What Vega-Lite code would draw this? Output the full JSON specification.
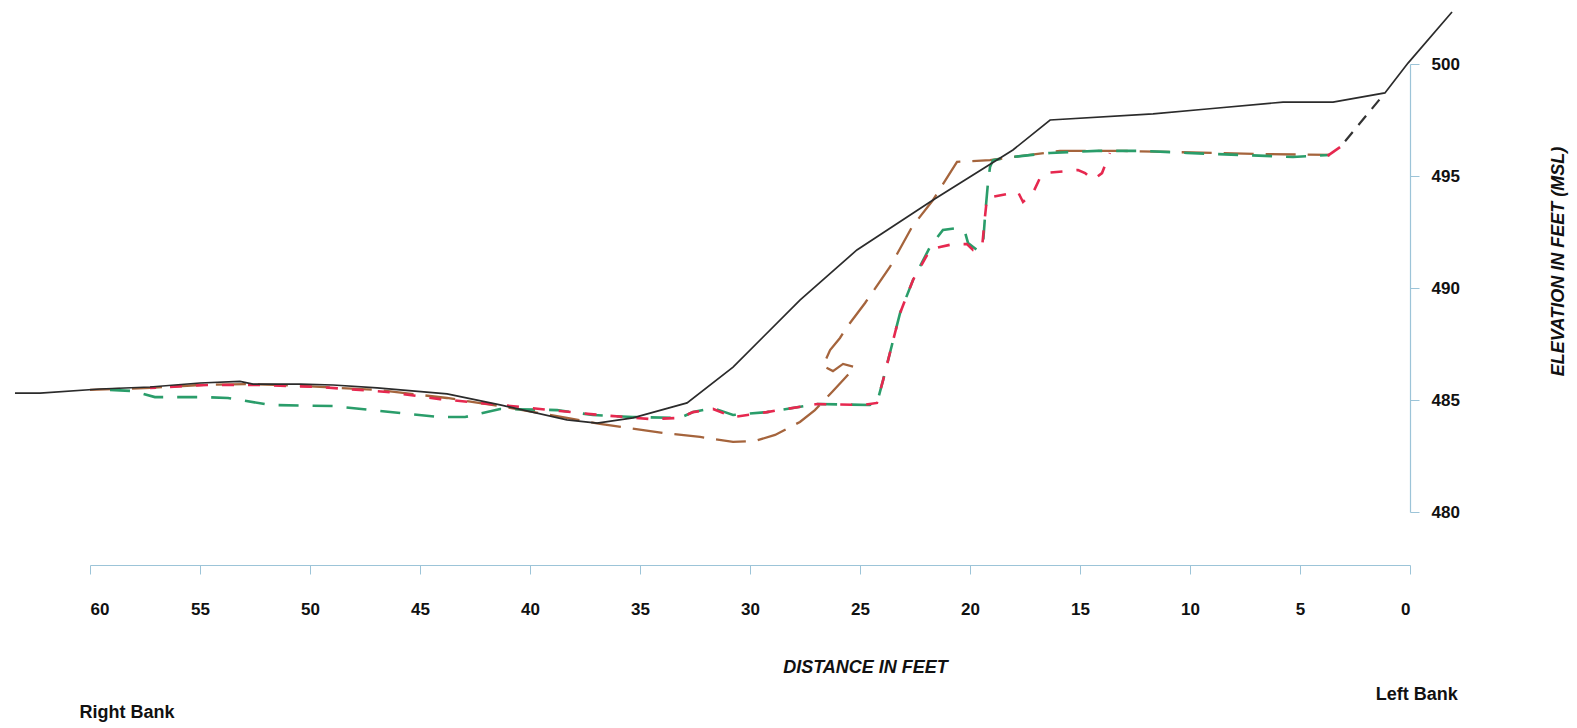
{
  "$schema": "https://vega.github.io/schema/vega-lite/v6.json",
  "width": 1320,
  "height": 448,
  "autosize": {"type": "none"},
  "padding": {"left": 90, "top": 64, "right": 167, "bottom": 216},
  "background": "white",
  "config": {"view": {"stroke": null}, "font": "Liberation Sans"},
  "datasets": {
    "black": [
      {"i":1,"d":63.41,"e":485.31},{"i":2,"d":62.27,"e":485.31},{"i":3,"d":59.55,"e":485.49},{"i":4,"d":57.27,"e":485.58},
      {"i":5,"d":55.0,"e":485.76},{"i":6,"d":53.18,"e":485.83},{"i":7,"d":52.59,"e":485.71},{"i":8,"d":50.45,"e":485.71},
      {"i":9,"d":48.95,"e":485.67},{"i":10,"d":46.95,"e":485.54},{"i":11,"d":43.77,"e":485.27},{"i":12,"d":41.36,"e":484.78},
      {"i":13,"d":38.32,"e":484.11},{"i":14,"d":36.95,"e":483.97},{"i":15,"d":35.32,"e":484.2},{"i":16,"d":32.86,"e":484.87},
      {"i":17,"d":30.77,"e":486.47},{"i":18,"d":27.73,"e":489.46},{"i":19,"d":25.14,"e":491.7},{"i":20,"d":21.68,"e":493.93},
      {"i":21,"d":18.05,"e":496.16},{"i":22,"d":16.36,"e":497.5},{"i":23,"d":11.68,"e":497.77},{"i":24,"d":9.23,"e":497.99},
      {"i":25,"d":5.77,"e":498.3},{"i":26,"d":3.5,"e":498.3},{"i":27,"d":1.14,"e":498.71},{"i":28,"d":0.09,"e":500.04},
      {"i":29,"d":-1.91,"e":502.32}
    ],
    "brown": [
      {"i":1,"d":60.0,"e":485.45},{"i":2,"d":57.27,"e":485.54},{"i":3,"d":55.0,"e":485.67},{"i":4,"d":52.86,"e":485.71},
      {"i":5,"d":50.45,"e":485.63},{"i":6,"d":46.95,"e":485.45},{"i":7,"d":43.77,"e":485.09},{"i":8,"d":41.36,"e":484.73},
      {"i":9,"d":38.32,"e":484.2},{"i":10,"d":36.82,"e":483.93},{"i":11,"d":33.95,"e":483.53},{"i":12,"d":32.27,"e":483.35},
      {"i":13,"d":30.77,"e":483.13},{"i":14,"d":29.77,"e":483.17},{"i":15,"d":28.86,"e":483.44},{"i":16,"d":27.73,"e":484.02},
      {"i":17,"d":27.05,"e":484.55},{"i":18,"d":26.27,"e":485.36},{"i":19,"d":25.68,"e":485.98},{"i":20,"d":25.23,"e":486.47},
      {"i":21,"d":25.77,"e":486.61},{"i":22,"d":26.23,"e":486.29},{"i":23,"d":26.68,"e":486.52},{"i":24,"d":26.36,"e":487.23},
      {"i":25,"d":25.91,"e":487.77},{"i":26,"d":25.59,"e":488.26},{"i":27,"d":24.77,"e":489.33},{"i":28,"d":23.64,"e":490.94},
      {"i":29,"d":22.64,"e":492.72},{"i":30,"d":21.68,"e":493.93},{"i":31,"d":20.59,"e":495.63},{"i":32,"d":19.09,"e":495.71},
      {"i":33,"d":15.91,"e":496.12},{"i":34,"d":13.05,"e":496.12},{"i":35,"d":8.95,"e":496.03},{"i":36,"d":6.82,"e":495.98},
      {"i":37,"d":3.64,"e":495.94}
    ],
    "green": [
      {"i":1,"d":59.09,"e":485.45},{"i":2,"d":58.05,"e":485.4},{"i":3,"d":57.05,"e":485.13},{"i":4,"d":54.86,"e":485.13},
      {"i":5,"d":53.73,"e":485.09},{"i":6,"d":51.82,"e":484.78},{"i":7,"d":48.95,"e":484.73},{"i":8,"d":46.82,"e":484.51},
      {"i":9,"d":44.09,"e":484.24},{"i":10,"d":42.95,"e":484.24},{"i":11,"d":41.36,"e":484.6},{"i":12,"d":38.77,"e":484.55},
      {"i":13,"d":37.14,"e":484.33},{"i":14,"d":35.32,"e":484.24},{"i":15,"d":33.18,"e":484.2},{"i":16,"d":32.59,"e":484.46},
      {"i":17,"d":31.68,"e":484.64},{"i":18,"d":30.77,"e":484.33},{"i":19,"d":29.23,"e":484.46},{"i":20,"d":26.95,"e":484.82},
      {"i":21,"d":24.55,"e":484.78},{"i":22,"d":24.23,"e":484.87},{"i":23,"d":23.95,"e":485.89},{"i":24,"d":23.64,"e":487.1},
      {"i":25,"d":23.18,"e":488.88},{"i":26,"d":22.59,"e":490.36},{"i":27,"d":21.82,"e":491.83},{"i":28,"d":21.23,"e":492.59},
      {"i":29,"d":20.59,"e":492.68},{"i":30,"d":20.23,"e":492.5},{"i":31,"d":20.09,"e":492.01},{"i":32,"d":19.68,"e":491.7},
      {"i":33,"d":19.41,"e":491.92},{"i":34,"d":19.32,"e":493.17},{"i":35,"d":19.18,"e":494.73},{"i":36,"d":19.09,"e":495.4},
      {"i":37,"d":18.95,"e":495.71},{"i":38,"d":18.05,"e":495.85},{"i":39,"d":16.36,"e":496.03},{"i":40,"d":14.23,"e":496.12},
      {"i":41,"d":12.14,"e":496.12},{"i":42,"d":10.14,"e":496.03},{"i":43,"d":7.73,"e":495.94},{"i":44,"d":5.32,"e":495.85},
      {"i":45,"d":3.64,"e":495.94}
    ],
    "red": [
      {"i":1,"d":57.27,"e":485.54},{"i":2,"d":54.68,"e":485.67},{"i":3,"d":52.27,"e":485.67},{"i":4,"d":49.55,"e":485.58},
      {"i":5,"d":46.5,"e":485.36},{"i":6,"d":44.09,"e":485.04},{"i":7,"d":41.36,"e":484.78},{"i":8,"d":40.45,"e":484.69},
      {"i":9,"d":38.64,"e":484.51},{"i":10,"d":36.82,"e":484.33},{"i":11,"d":34.55,"e":484.15},{"i":12,"d":33.18,"e":484.2},
      {"i":13,"d":32.59,"e":484.46},{"i":14,"d":31.68,"e":484.6},{"i":15,"d":30.77,"e":484.24},{"i":16,"d":29.23,"e":484.46},
      {"i":17,"d":26.95,"e":484.82},{"i":18,"d":24.86,"e":484.78},{"i":19,"d":24.23,"e":484.87},{"i":20,"d":23.95,"e":485.89},
      {"i":21,"d":23.64,"e":487.1},{"i":22,"d":23.18,"e":488.88},{"i":23,"d":22.59,"e":490.36},{"i":24,"d":21.82,"e":491.7},
      {"i":25,"d":21.36,"e":491.83},{"i":26,"d":20.77,"e":491.96},{"i":27,"d":20.14,"e":491.96},{"i":28,"d":19.86,"e":491.7},
      {"i":29,"d":19.45,"e":491.83},{"i":30,"d":19.32,"e":493.17},{"i":31,"d":19.23,"e":494.02},{"i":32,"d":18.09,"e":494.24},
      {"i":33,"d":17.82,"e":494.29},{"i":34,"d":17.59,"e":493.84},{"i":35,"d":17.14,"e":494.24},{"i":36,"d":16.82,"e":494.91},
      {"i":37,"d":16.59,"e":495.13},{"i":38,"d":15.09,"e":495.27},{"i":39,"d":14.77,"e":495.13},{"i":40,"d":14.41,"e":494.82},
      {"i":41,"d":14.0,"e":495.13},{"i":42,"d":13.82,"e":495.58},{"i":43,"d":13.64,"e":496.03}
    ],
    "redtick": [
      {"i":1,"d":3.75,"e":495.9},{"i":2,"d":3.18,"e":496.29}
    ],
    "connector": [
      {"i":1,"d":2.95,"e":496.55},{"i":2,"d":1.14,"e":498.71}
    ],
    "banks": [
      {"label":"Right Bank","d":58.32,"e":471.03},
      {"label":"Left Bank","d":-0.31,"e":471.83}
    ]
  },
  "encoding": {
    "x": {
      "field": "d", "type": "quantitative",
      "scale": {"domain": [0, 60], "reverse": true, "nice": false, "zero": false},
      "axis": {
        "values": [0,5,10,15,20,25,30,35,40,45,50,55,60],
        "offset": 53, "grid": false,
        "domainColor": "#9cc4d8", "tickColor": "#9cc4d8", "tickSize": 9, "domainWidth": 1.2,
        "labelFont": "Liberation Sans", "labelFontWeight": "bold", "labelFontSize": 17, "labelColor": "#111",
        "labelPadding": 27,
        "title": "DISTANCE IN FEET", "titleFont": "Liberation Sans", "titleFontSize": 18, "titleFontWeight": "bold",
        "titleFontStyle": "italic", "titleColor": "#111", "titleX": 775, "titleY": 102, "titleAlign": "center", "titleBaseline": "middle"
      }
    },
    "y": {
      "field": "e", "type": "quantitative",
      "scale": {"domain": [480, 500], "nice": false, "zero": false},
      "axis": {
        "orient": "right", "values": [480,485,490,495,500], "grid": false,
        "domainColor": "#9cc4d8", "tickColor": "#9cc4d8", "tickSize": 9, "domainWidth": 1.2,
        "labelFont": "Liberation Sans", "labelFontWeight": "bold", "labelFontSize": 17, "labelColor": "#111",
        "labelPadding": 12,
        "title": "ELEVATION IN FEET (MSL)", "titleFont": "Liberation Sans", "titleFontSize": 18, "titleFontWeight": "bold",
        "titleFontStyle": "italic", "titleColor": "#111", "titleAngle": 270, "titleX": 148, "titleY": 197,
        "titleAlign": "center", "titleBaseline": "middle"
      }
    },
    "order": {"field": "i", "type": "quantitative"}
  },
  "layer": [
    {"data": {"name": "brown"}, "mark": {"type": "line", "color": "#a5643c", "strokeWidth": 2.3, "strokeDash": [30, 12]}},
    {"data": {"name": "green"}, "mark": {"type": "line", "color": "#2a9d6a", "strokeWidth": 2.6, "strokeDash": [20, 14]}},
    {"data": {"name": "red"}, "mark": {"type": "line", "color": "#e6284f", "strokeWidth": 2.6, "strokeDash": [12, 14], "strokeDashOffset": 6}},
    {"data": {"name": "redtick"}, "mark": {"type": "line", "color": "#e6284f", "strokeWidth": 2.6}},
    {"data": {"name": "connector"}, "mark": {"type": "line", "color": "#333333", "strokeWidth": 2.2, "strokeDash": [12, 9]}},
    {"data": {"name": "black"}, "mark": {"type": "line", "color": "#2b2b2b", "strokeWidth": 1.7}},
    {"data": {"name": "banks"}, "mark": {"type": "text", "font": "Liberation Sans", "fontWeight": "bold", "fontSize": 18, "color": "#111", "align": "center", "baseline": "middle"},
     "encoding": {"text": {"field": "label", "type": "nominal"}, "order": null}}
  ]
}
